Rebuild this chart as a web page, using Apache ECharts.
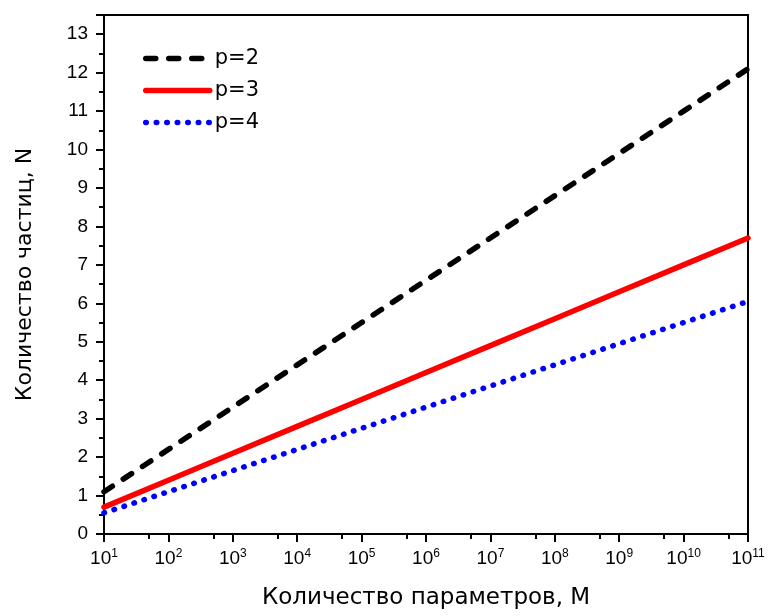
<!DOCTYPE html>
<html>
<head>
<meta charset="utf-8">
<script src="https://cdn.jsdelivr.net/npm/echarts@6/dist/echarts.min.js"></script>
<style>html,body{margin:0;padding:0;background:#fff}#c{width:768px;height:616px}</style>
</head>
<body>
<div id="c"></div>
<script>
// Data
var xValues = [1e1, 1e2, 1e3, 1e4, 1e5, 1e6, 1e7, 1e8, 1e9, 1e10, 1e11];
var p2 = [1.1, 2.2, 3.3, 4.4, 5.5, 6.6, 7.7, 8.8, 9.9, 11.0, 12.1];
var p3 = [0.7, 1.4, 2.1, 2.8, 3.5, 4.2, 4.9, 5.6, 6.3, 7.0, 7.7];
var p4 = [0.55, 1.1, 1.65, 2.2, 2.75, 3.3, 3.85, 4.4, 4.95, 5.5, 6.05];
var seriesNames = ['p=2', 'p=3', 'p=4'];
var xMajorTicks = [1e1, 1e2, 1e3, 1e4, 1e5, 1e6, 1e7, 1e8, 1e9, 1e10, 1e11];
var xMinorTicks = [5e1, 5e2, 5e3, 5e4, 5e5, 5e6, 5e7, 5e8, 5e9, 5e10];
var xTitle = 'Количество параметров, М';
var yTitle = 'Количество частиц, N';

function pairs(ys) { return xValues.map(function (x, i) { return [x, ys[i]]; }); }

var font = 'Liberation Sans, Arial, sans-serif';
var wide = 'DejaVu Sans, sans-serif';
var chart = echarts.init(document.getElementById('c'), null, {renderer: 'canvas'});
chart.setOption({
  animation: false,
  grid: {left: 104, right: 20, top: 15, bottom: 82, show: true, borderColor: '#000', borderWidth: 2},
  legend: {
    orient: 'vertical', left: 143, top: 48, padding: 0, itemWidth: 64, itemHeight: 20, itemGap: 11,
    itemStyle: {opacity: 0},
    lineStyle: {width: 5.5},
    textStyle: {fontFamily: wide, fontSize: 21, color: '#000'},
    data: seriesNames
  },
  xAxis: [{
    type: 'log', logBase: 10, min: 10, max: 1e11,
    name: xTitle, nameLocation: 'middle', nameGap: 53,
    nameTextStyle: {fontFamily: wide, fontSize: 23, color: '#000'},
    axisLine: {lineStyle: {color: '#000', width: 2}},
    axisTick: {show: true, length: 8, customValues: xMajorTicks, lineStyle: {color: '#000', width: 2}},
    splitLine: {show: false},
    axisLabel: {
      customValues: xMajorTicks, hideOverlap: false,
      margin: 14, color: '#000', fontFamily: font, fontSize: 19,
      formatter: function (v) { return '10{s|' + Math.round(Math.log10(v)) + '}'; },
      rich: {s: {fontSize: 12, fontFamily: font, color: '#000', verticalAlign: 'top', padding: [0, 0, 10, 0]}}
    }
  }, {
    type: 'log', logBase: 10, min: 10, max: 1e11, position: 'bottom', gridIndex: 0,
    axisLine: {show: false},
    axisLabel: {show: false},
    splitLine: {show: false},
    axisTick: {show: true, length: 5, customValues: xMinorTicks, lineStyle: {color: '#000', width: 2}}
  }],
  yAxis: {
    type: 'value', min: 0, max: 13.5, interval: 1,
    name: yTitle, nameLocation: 'middle', nameGap: 68,
    nameTextStyle: {fontFamily: wide, fontSize: 22, color: '#000'},
    axisLine: {show: true, lineStyle: {color: '#000', width: 2}},
    axisTick: {show: true, length: 8, lineStyle: {color: '#000', width: 2}},
    minorTick: {show: true, splitNumber: 2, length: 5, lineStyle: {color: '#000', width: 2}},
    splitLine: {show: false},
    axisLabel: {
      margin: 16, color: '#000', fontFamily: font, fontSize: 19, showMaxLabel: false,
      formatter: function (v) { return Math.abs(v - Math.round(v)) < 1e-6 ? String(v) : ''; }
    }
  },
  series: [
    {name: seriesNames[0], type: 'line', showSymbol: false, symbol: 'none', data: pairs(p2),
     color: '#000', lineStyle: {color: '#000', width: 5.5, type: [10, 13], cap: 'round'}},
    {name: seriesNames[1], type: 'line', showSymbol: false, symbol: 'none', data: pairs(p3),
     color: '#ff0000', lineStyle: {color: '#ff0000', width: 5.5, type: 'solid', cap: 'round'}},
    {name: seriesNames[2], type: 'line', showSymbol: false, symbol: 'none', data: pairs(p4),
     color: '#0000ff', lineStyle: {color: '#0000ff', width: 5.5, type: [0.5, 10], cap: 'round'}}
  ]
});
</script>
</body>
</html>
